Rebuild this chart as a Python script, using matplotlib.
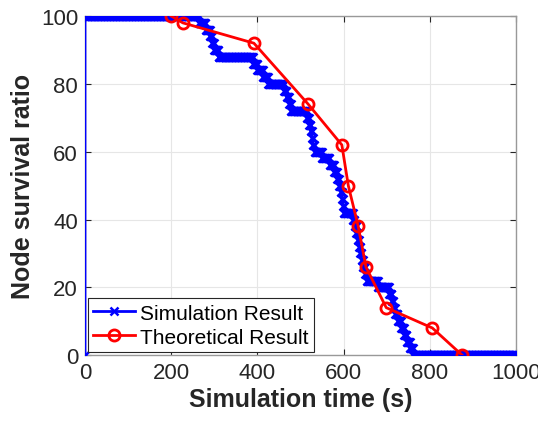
import matplotlib

matplotlib.use("Agg")
import matplotlib.pyplot as plt
import numpy as np

# node death times (s); each death removes 2% of nodes (50 nodes)
death_times = [265, 280, 290, 295, 300, 310, 390, 400, 413, 425,
               462, 468, 474, 478, 515, 520, 524, 527, 529, 533,
               550, 568, 578, 585, 590, 594, 597, 599, 601, 622,
               626, 630, 633, 636, 639, 642, 645, 650, 654, 680,
               706, 712, 716, 720, 726, 734, 741, 747, 754, 761]
step_pct = 2
sim_end = 1000

# theoretical model
theo_t = [200, 227, 392, 518, 596, 611, 634, 652, 699, 806, 875]
theo_y = [100, 98, 92, 74, 62, 50, 38, 26, 14, 8, 0]

# sampled simulation survival curve (1 s resolution)
t = np.arange(0, sim_end + 1)
deaths = np.searchsorted(np.array(death_times), t, side="right")
sim_y = 100 - step_pct * deaths
t = np.concatenate([[0], t])
sim_y = np.concatenate([[0], sim_y])

plt.rcParams["font.family"] = ["Liberation Sans", "DejaVu Sans"]
txt = "#262626"

fig = plt.figure(figsize=(5.38, 4.27), dpi=100)
ax = fig.add_axes([0.158, 0.166, 0.801, 0.794])

ax.plot(t, sim_y, color="blue", lw=2, marker="x", ms=6, mew=1.8,
        label="Simulation Result", zorder=3)
ax.plot(theo_t, theo_y, color="red", lw=2, marker="o", ms=8, mew=2,
        mfc="none", label="Theoretical Result", zorder=4)

ax.set_xlim(0, 1000)
ax.set_ylim(0, 100)
ax.set_xticks([0, 200, 400, 600, 800, 1000])
ax.set_yticks([0, 20, 40, 60, 80, 100])
ax.grid(True, color="#e6e6e6", lw=0.8)
ax.set_axisbelow(True)
ax.tick_params(direction="in", length=4, width=0.8, top=True, right=True,
               labelsize=16, colors=txt, labelcolor=txt, pad=5)
for s in ax.spines.values():
    s.set_color("#999999")
    s.set_linewidth(1.0)

ax.set_xlabel("Simulation time (s)", fontsize=18, fontweight="bold", color=txt,
              labelpad=3)
ax.set_ylabel("Node survival ratio", fontsize=18, fontweight="bold", color=txt,
              labelpad=4)

leg = ax.legend(loc="lower left", fontsize=15, frameon=True, fancybox=False,
                borderpad=0.25, labelspacing=0.25, handlelength=2.0,
                handletextpad=0.25, borderaxespad=0.15)
leg.get_frame().set_edgecolor("#262626")
leg.get_frame().set_linewidth(0.8)
leg.get_frame().set_alpha(1)

fig.savefig("out.png", dpi=100)
